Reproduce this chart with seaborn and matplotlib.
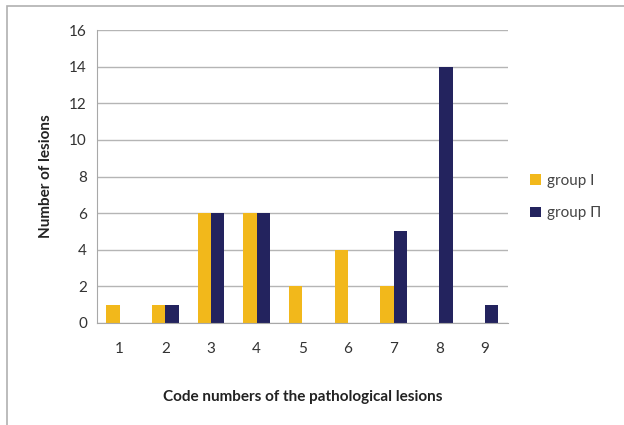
import pandas as pd
import matplotlib.pyplot as plt
import seaborn as sns
from matplotlib.patches import Rectangle

codes = ["1", "2", "3", "4", "5", "6", "7", "8", "9"]
group_1 = [1, 1, 6, 6, 2, 4, 2, 0, 0]
group_2 = [0, 1, 6, 6, 0, 0, 5, 14, 1]
groups = ["group I", "group \u041f"]
colors = {"group I": "#F2B81B", "group \u041f": "#23235E"}

df = pd.DataFrame({
    "code": codes * 2,
    "count": group_1 + group_2,
    "group": [groups[0]] * len(codes) + [groups[1]] * len(codes),
})

sns.set_style("white")
plt.rcParams["font.family"] = ["Lato", "DejaVu Sans"]

fig = plt.figure(figsize=(6.24, 4.25), dpi=100)
ax = fig.add_axes([0.155, 0.24, 0.659, 0.689])

sns.barplot(
    data=df, x="code", y="count", hue="group", order=codes,
    palette=colors, width=0.58, saturation=1, linewidth=0, ax=ax,
)

ax.set_ylim(0, 16)
ax.set_yticks(range(0, 17, 2))
ax.set_xlim(-0.5, 8.5)
ax.yaxis.grid(True, color="#B5B5B5", linewidth=1)
ax.set_axisbelow(True)
for side in ["top", "right"]:
    ax.spines[side].set_visible(False)
for side in ["left", "bottom"]:
    ax.spines[side].set_color("#A8A8A8")
ax.tick_params(axis="y", length=4, color="#A8A8A8", labelsize=11, labelcolor="#333333", pad=3)
ax.tick_params(axis="x", length=0, labelsize=11, labelcolor="#333333", pad=14)

ax.set_xlabel("Code numbers of the pathological lesions", fontsize=11,
              fontweight="bold", color="#222222", labelpad=24)
ax.set_ylabel("Number of lesions", fontsize=11, fontweight="bold",
              color="#222222", labelpad=12)

ax.legend(title=None, frameon=False, loc="center left",
          bbox_to_anchor=(1.02, 0.43), fontsize=11, labelcolor="#444444",
          handlelength=0.7, handleheight=0.7, handletextpad=0.4, labelspacing=1.2)

fig.patches.append(Rectangle((0.012, -0.01), 1.0, 0.995, transform=fig.transFigure,
                             fill=False, edgecolor="#B0B0B0", linewidth=1.2))

fig.savefig("out.png", dpi=100)
